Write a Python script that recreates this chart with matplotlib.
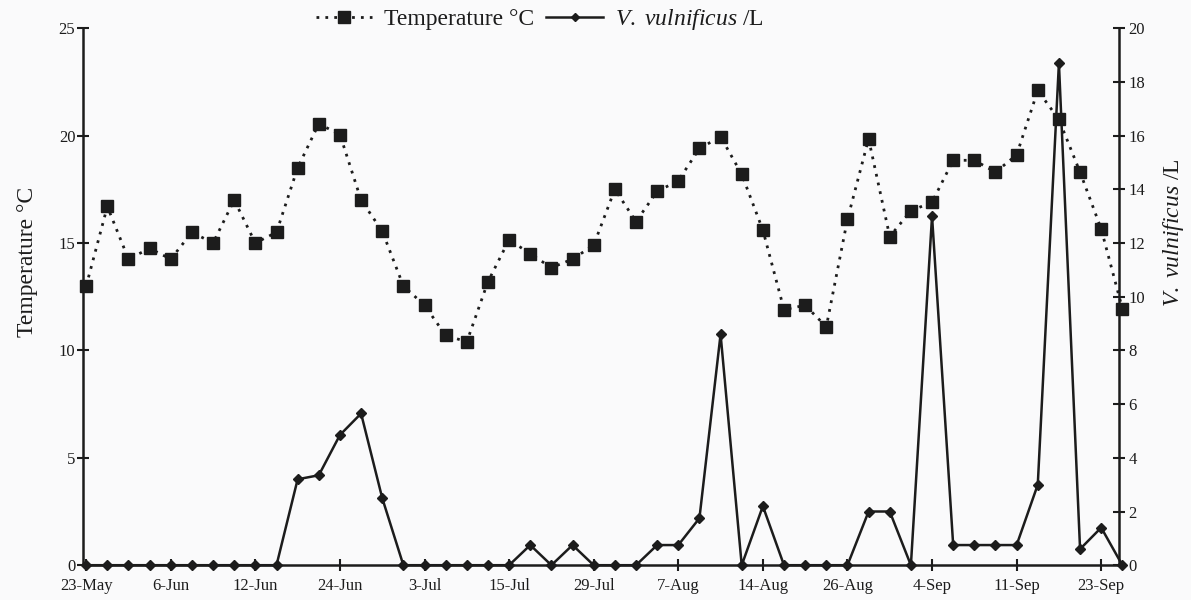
"""
수온과 V. vulnificus 농도 시계열 (이중 y축)
"""

import matplotlib.pyplot as plt
from matplotlib.lines import Line2D

# 데이터
date_labels = ['23-May', '6-Jun', '12-Jun', '24-Jun', '3-Jul', '15-Jul', '29-Jul',
               '7-Aug', '14-Aug', '26-Aug', '4-Sep', '11-Sep', '23-Sep']

temperature = [13.0, 16.7, 14.25, 14.75, 14.25, 15.5, 15.0, 17.0, 15.0, 15.5,
               18.5, 20.55, 20.05, 17.0, 15.55, 13.0, 12.1, 10.7, 10.4, 13.2,
               15.15, 14.5, 13.85, 14.25, 14.9, 17.5, 16.0, 17.4, 17.9, 19.4,
               19.95, 18.2, 15.6, 11.9, 12.1, 11.1, 16.1, 19.85, 15.3, 16.5,
               16.9, 18.85, 18.85, 18.3, 19.1, 22.1, 20.75, 18.3, 15.65, 11.95]

vibrio = [0, 0, 0, 0, 0, 0, 0, 0, 0, 0,
          3.2, 3.35, 4.85, 5.65, 2.5, 0, 0, 0, 0, 0,
          0, 0.75, 0, 0.75, 0, 0, 0, 0.75, 0.75, 1.75,
          8.6, 0, 2.2, 0, 0, 0, 0, 2.0, 2.0, 0,
          13.0, 0.75, 0.75, 0.75, 0.75, 3.0, 18.7, 0.6, 1.4, 0]

label_step = 4  # 4번째 샘플마다 날짜 표시

ink = '#1c1c1c'
plt.rcParams['font.family'] = 'Liberation Serif'
plt.rcParams['mathtext.fontset'] = 'custom'
plt.rcParams['mathtext.rm'] = 'Liberation Serif'
plt.rcParams['mathtext.it'] = 'Liberation Serif:italic'

fig = plt.figure(figsize=(11.91, 6.0), dpi=100, facecolor='#fafafb')
ax = fig.add_axes([0.0697, 0.058, 0.870, 0.895])
ax2 = ax.twinx()

x = list(range(len(temperature)))

# 수온 (점선 + 사각형)
ax.plot(x, temperature, color=ink, linestyle=(0, (1, 2.2)), linewidth=2,
        marker='s', markersize=9, clip_on=False, zorder=3)

# V. vulnificus (실선 + 마름모)
ax2.plot(x, vibrio, color=ink, linestyle='-', linewidth=1.8,
         marker='D', markersize=5.5, clip_on=False, zorder=3)

# 축 범위
ax.set_xlim(-0.15, 48.85)
ax.set_ylim(0, 25)
ax2.set_ylim(0, 20)

# 축 스타일
for a in (ax, ax2):
    a.set_facecolor('none')
    a.spines['top'].set_visible(False)
    for s in ('left', 'right', 'bottom'):
        a.spines[s].set_color(ink)
        a.spines[s].set_linewidth(1.8)
ax.spines['right'].set_visible(False)
ax2.spines['left'].set_visible(False)
ax2.spines['bottom'].set_visible(False)

ax.set_yticks(range(0, 26, 5))
ax2.set_yticks(range(0, 21, 2))
ax.tick_params(axis='y', direction='inout', length=9, width=1.5,
               colors=ink, labelsize=12, pad=1)
ax2.tick_params(axis='y', direction='inout', length=9, width=1.5,
                colors=ink, labelsize=12, pad=2)

tick_pos = x[::label_step]
ax.set_xticks(tick_pos)
ax.set_xticklabels(date_labels)
ax.tick_params(axis='x', direction='inout', length=9, width=1.5,
               colors=ink, labelsize=12, pad=5)

ax.set_ylabel('Temperature °C', fontsize=17, color=ink)
ax.yaxis.set_label_coords(-0.043, 0.565)
ax2.set_ylabel(r'$\it{V.\ vulnificus}$ /L', fontsize=17, color=ink,
               rotation=90)
ax2.yaxis.set_label_coords(1.040, 0.62)

# 범례 (상단)
handles = [
    Line2D([], [], color=ink, linestyle=(0, (1, 2.2)), linewidth=2,
           marker='s', markersize=8),
    Line2D([], [], color=ink, linestyle='-', linewidth=1.8,
           marker='D', markersize=4.5),
]
fig.legend(handles, ['Temperature °C', r'$\it{V.\ vulnificus}$ /L'],
           loc='center', bbox_to_anchor=(0.453, 0.967), ncol=2, frameon=False,
           fontsize=17, handlelength=2.4, columnspacing=0.5, handletextpad=0.5,
           labelcolor=ink)

plt.savefig('out.png', dpi=100, facecolor=fig.get_facecolor())
